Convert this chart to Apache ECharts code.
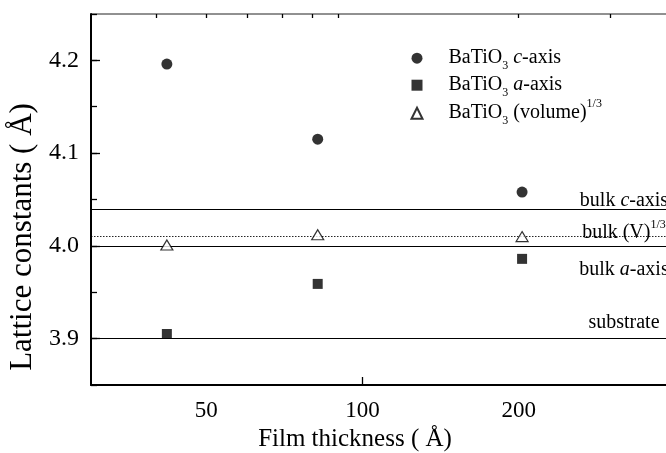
<!DOCTYPE html>
<html>
<head>
<meta charset="utf-8">
<script src="https://cdn.jsdelivr.net/npm/echarts@6/dist/echarts.min.js"></script>
<style>
  html, body { margin: 0; padding: 0; background: #fff; overflow: hidden; }
  /* the plot frame runs past the right edge of the page */
  #chart { width: 676px; height: 453px; }
</style>
</head>
<body>
<div id="chart"></div>
<script>
// Film thickness (Å) of the BaTiO3 films
const thickness = [42, 82, 203];
// Measured lattice constants (Å)
const cAxis = [4.196, 4.115, 4.058];
const aAxis = [3.905, 3.959, 3.986];
const volumeRoot = [4.001, 4.012, 4.010];

// Bulk reference values and substrate (Å)
const refKeys = ['bulkC', 'bulkV', 'bulkA', 'substrate'];
const refValues = [4.036, 4.006, 3.996, 3.905];
// thickness at which the reference labels are centred
const refLabelAt = 319;

// Tick labels
const xTickLabels = [50, 100, 200];
const xMajorTicks = [100];
const xMinorTicks = [40, 50, 60, 70, 80, 90, 200, 300];
const yTickLabels = [3.9, 4.0, 4.1, 4.2];

const FONT = '"Liberation Serif", "Times New Roman", serif';

const richBase = {
  n: { fontFamily: FONT, fontSize: 20, lineHeight: 20, color: '#000' },
  i: { fontFamily: FONT, fontSize: 20, lineHeight: 20, fontStyle: 'italic', color: '#000' },
  sub: { fontFamily: FONT, fontSize: 12, lineHeight: 20, padding: [16, 0, 0, 0], color: '#000' },
  sup: { fontFamily: FONT, fontSize: 12, lineHeight: 20, padding: [0, 0, 18, 0], color: '#000' },
  g: { width: 21, lineHeight: 20 }
};
const richRef = {
  n: { fontFamily: FONT, fontSize: 20, lineHeight: 20, color: '#000' },
  i: { fontFamily: FONT, fontSize: 20, lineHeight: 20, fontStyle: 'italic', color: '#000' },
  sup: { fontFamily: FONT, fontSize: 12, lineHeight: 20, padding: [0, 0, 14, 0], color: '#000' }
};

const legendText = {
  'BaTiO3 c-axis': '{g|}{n|BaTiO}{sub|3}{n| }{i|c}{n|-axis}',
  'BaTiO3 a-axis': '{g|}{n|BaTiO}{sub|3}{n| }{i|a}{n|-axis}',
  'BaTiO3 (volume)1/3': '{g|}{n|BaTiO}{sub|3}{n| (volume)}{sup|1/3}'
};

const refText = {
  bulkC: '{n|bulk }{i|c}{n|-axis}',
  bulkV: '{n|bulk (V)}{sup|1/3}',
  bulkA: '{n|bulk }{i|a}{n|-axis}',
  substrate: '{n|substrate}'
};
// vertical offset of each reference label from its line (px)
const refLabelDy = { bulkC: -12, bulkV: -8, bulkA: 20, substrate: -11 };
const refLineType = { bulkC: 'solid', bulkV: 'dotted', bulkA: 'solid', substrate: 'solid' };

function pairs(xs, ys) { return xs.map((x, k) => [x, ys[k]]); }

const chart = echarts.init(document.getElementById('chart'), null, { renderer: 'canvas' });

const xCommon = { type: 'log', logBase: 10, min: 30, max: 400, gridIndex: 0, splitLine: { show: false } };
const yCommon = { type: 'value', min: 3.85, max: 4.25, interval: 0.05, gridIndex: 0, splitLine: { show: false }, position: 'left' };

chart.setOption({
  animation: false,
  backgroundColor: '#fff',
  grid: {
    left: 91, top: 14, right: 1, height: 371,
    containLabel: false, outerBoundsMode: 'none',
    show: true, borderColor: '#222', borderWidth: 1, backgroundColor: 'transparent'
  },
  xAxis: [
    Object.assign({}, xCommon, {
      name: 'Film thickness ( Å)',
      nameLocation: 'middle',
      nameGap: 40,
      nameTextStyle: { fontFamily: FONT, fontSize: 25, color: '#000', padding: [0, 56, 0, 0] },
      axisLine: { show: true, lineStyle: { color: '#000', width: 2 } },
      axisTick: { show: true, inside: true, length: 8, customValues: xMajorTicks, lineStyle: { color: '#000', width: 1.3 } },
      axisLabel: { show: true, customValues: xTickLabels, fontFamily: FONT, fontSize: 23, color: '#000', margin: 14,
        formatter: v => String(Math.round(v)) },
      minorTick: { show: false }
    }),
    Object.assign({}, xCommon, {
      axisLine: { show: false },
      axisTick: { show: true, inside: true, length: 4, customValues: xMinorTicks, lineStyle: { color: '#000', width: 1.3 } },
      axisLabel: { show: false }
    })
  ],
  yAxis: [
    Object.assign({}, yCommon, {
      name: 'Lattice constants ( Å)',
      nameLocation: 'middle',
      nameGap: 52,
      nameTextStyle: { fontFamily: FONT, fontSize: 31, color: '#000', padding: [0, 75, 0, 0] },
      axisLine: { show: true, lineStyle: { color: '#000', width: 2 } },
      axisTick: { show: true, inside: true, length: 9, customValues: yTickLabels, lineStyle: { color: '#000', width: 1.3 } },
      axisLabel: { show: true, customValues: yTickLabels, fontFamily: FONT, fontSize: 24, color: '#000', margin: 12,
        formatter: v => Number(v).toFixed(1) }
    }),
    Object.assign({}, yCommon, {
      axisLine: { show: false },
      axisTick: { show: true, inside: true, length: 6, lineStyle: { color: '#000', width: 1.3 } },
      axisLabel: { show: false }
    })
  ],
  legend: {
    orient: 'vertical',
    left: 410.5,
    top: 44.2,
    padding: 0,
    itemWidth: 11,
    itemHeight: 11,
    itemGap: -1,
    selectedMode: false,
    data: ['BaTiO3 c-axis', 'BaTiO3 a-axis', 'BaTiO3 (volume)1/3'],
    formatter: name => legendText[name],
    textStyle: { rich: richBase, fontFamily: FONT, fontSize: 20, color: '#000' }
  },
  series: [
    {
      name: 'reference',
      type: 'line',
      data: [],
      silent: true,
      markLine: {
        silent: true,
        symbol: 'none',
        label: { show: false },
        data: refKeys.map((k, idx) => ({
          yAxis: refValues[idx],
          lineStyle: { color: '#000', width: refLineType[k] === 'dotted' ? 1 : 1.2, type: refLineType[k] === 'dotted' ? [1.5, 1.5] : 'solid', opacity: refLineType[k] === 'dotted' ? 0.85 : 1 }
        }))
      },
      markPoint: {
        silent: true,
        symbolSize: 0,
        data: refKeys.map((k, idx) => ({
          coord: [refLabelAt, refValues[idx]],
          label: { show: true, position: 'inside', offset: [0, refLabelDy[k]], formatter: refText[k], rich: richRef }
        }))
      }
    },
    {
      name: 'BaTiO3 c-axis',
      type: 'scatter',
      symbol: 'circle',
      symbolSize: 11,
      itemStyle: { color: '#000' },
      data: pairs(thickness, cAxis),
      z: 5
    },
    {
      name: 'BaTiO3 a-axis',
      type: 'scatter',
      symbol: 'rect',
      symbolSize: 10,
      itemStyle: { color: '#000' },
      data: pairs(thickness, aAxis),
      z: 5
    },
    {
      name: 'BaTiO3 (volume)1/3',
      type: 'scatter',
      symbol: 'triangle',
      symbolSize: [12, 10],
      itemStyle: { color: '#fff', borderColor: '#000', borderWidth: 1.2 },
      data: pairs(thickness, volumeRoot),
      z: 6
    }
  ]
});
</script>
</body>
</html>
